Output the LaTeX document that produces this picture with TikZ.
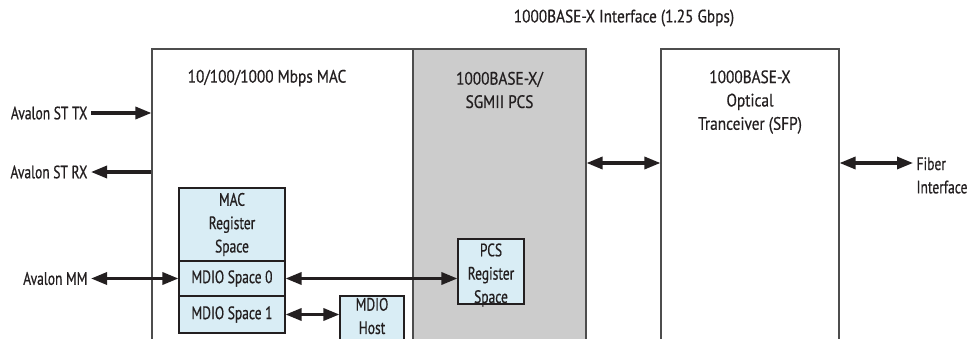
\documentclass[tikz,border=0pt]{standalone}
\usepackage{fontspec}
\setmainfont{PT Sans}[FakeStretch=0.85,FakeBold=0.6]
\newfontfamily\narrowfont{PT Sans}[FakeStretch=0.75,FakeBold=0.6]
\usetikzlibrary{arrows.meta,fit}
\definecolor{ink}{HTML}{231F20}
\definecolor{pcsgrey}{HTML}{CCCCCC}
\definecolor{regblue}{HTML}{D9EDF5}
\definecolor{edge}{HTML}{4D4D4D}
\begin{document}
\begin{tikzpicture}[x=0.75pt,y=-0.75pt,
  font=\fontsize{13.5}{17.5}\selectfont,
  bigbox/.style={draw=edge, line width=0.8pt, inner sep=0pt},
  regbox/.style={draw=ink, fill=regblue, line width=0.8pt, inner sep=0pt},
  lbl/.style={text=ink, inner sep=0pt, align=center},
  nlbl/.style={lbl, font=\narrowfont\fontsize{13.5}{17.5}\selectfont},
  side/.style={nlbl, inner xsep=2.5pt},
  tipx/.tip={Triangle[length=12pt,width=9pt]},
  dbl/.style={draw=ink, line width=2.4pt, {tipx}-{tipx}},
  one/.style={draw=ink, line width=2.4pt, -{tipx}}]
\useasboundingbox (0,0) rectangle (976,339);
\clip (0,0) rectangle (976,339);
% main blocks
\node[bigbox, fit={(152,49) (413,350)}] (mac) {};
\node[bigbox, fill=pcsgrey, fit={(413,49) (586,350)}] (pcs) {};
\node[bigbox, fit={(661,49) (839,350)}] (sfp) {};
% titles
\node[lbl] (iftitle) at (624,18) {1000BASE-X Interface (1.25 Gbps)};
\node[lbl] (mactitle) at (267,78) {10/100/1000 Mbps MAC};
\node[lbl] (pcstitle) at (499.5,90) {1000BASE-X/\\SGMII PCS};
\node[lbl] (sfptitle) at (750,102) {1000BASE-X\\Optical\\Tranceiver (SFP)};
% register blocks
\node[regbox, fit={(179,188) (285,261)}] (macreg) {};
\node[nlbl] (macregtxt) at (macreg.center) {MAC\\Register\\Space};
\node[regbox, fit={(179,261) (285,296)}] (mdio0) {};
\node[nlbl] (mdio0txt) at (mdio0.center) {MDIO Space 0};
\node[regbox, fit={(179,296) (285,333)}] (mdio1) {};
\node[nlbl] (mdio1txt) at (mdio1.center) {MDIO Space 1};
\node[regbox, fit={(340,296) (404,350)}] (host) {};
\node[nlbl] (hosttxt) at (372,316) {MDIO\\Host};
\node[regbox, fit={(458,239) (524,304)}] (pcsreg) {};
\node[nlbl] (pcsregtxt) at (491,275) {PCS\\Register\\Space};
% side labels
\node[side, anchor=east] (avtx) at (91,113) {Avalon ST TX};
\node[side, anchor=east] (avrx) at (91,172) {Avalon ST RX};
\node[side, anchor=east] (avmm) at (91,278.5) {Avalon MM};
\node[nlbl, align=left, inner xsep=2.5pt, anchor=north west] (fiber) at (913,157) {Fiber\\Interface};
\coordinate (lvl) at (0,163);
% connectors
\draw[one] (avtx.east) -- (mac.west |- avtx.east);
\draw[one] (mac.west |- avrx.east) -- (avrx.east);
\draw[dbl] (avmm.east |- mdio0.west) -- (mdio0.west);
\draw[dbl] (mdio0.east) -- (pcsreg.west |- mdio0.east);
\draw[dbl] (mdio1.east) -- (host.west |- mdio1.east);
\draw[dbl] (pcs.east |- lvl) -- (sfp.west |- lvl);
\draw[dbl] (sfp.east |- lvl) -- (fiber.west |- lvl);
\end{tikzpicture}
\end{document}
